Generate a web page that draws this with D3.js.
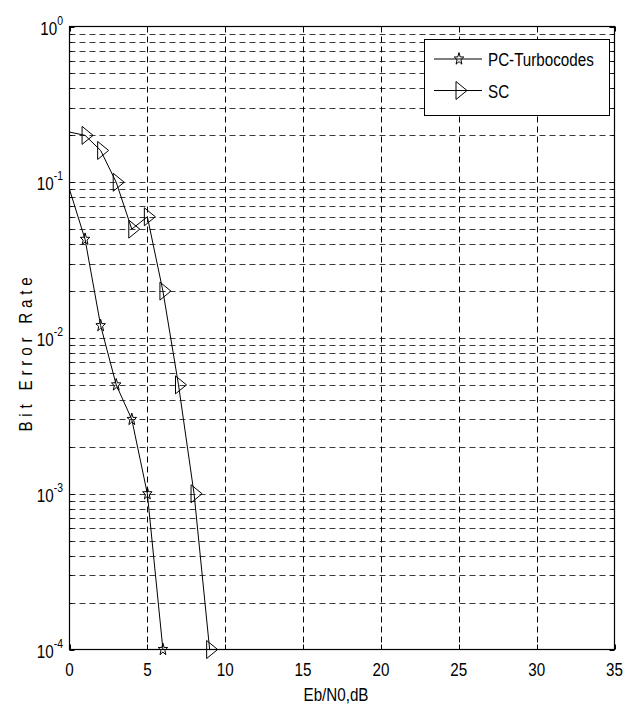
<!DOCTYPE html>
<html>
<head>
<meta charset="utf-8">
<script src="https://cdn.jsdelivr.net/npm/d3@7"></script>
<style>
  body { margin: 0; background: #fff; }
  svg { display: block; }
  text { font-family: "Liberation Sans", Arial, sans-serif; fill: #000; }
</style>
</head>
<body>
<svg id="chart" width="633" height="708"></svg>
<script>
// values
var ebn0 = [0, 1, 2, 3, 4, 5, 6, 7, 8, 9];
var berPcTurbo = [0.09, 0.043, 0.012, 0.005, 0.003, 0.001, 0.0001];
var berSc = [0.21, 0.2, 0.16, 0.1, 0.05, 0.06, 0.02, 0.005, 0.001, 0.0001];
var seriesNames = ["PC-Turbocodes", "SC"];
var xTicks = [0, 5, 10, 15, 20, 25, 30, 35];
var yExponents = [0, -1, -2, -3, -4];

var svg = d3.select("#chart");
var box = { left: 69.5, right: 614.5, top: 26.5, bottom: 649.5 };
var squeeze = 0.8;   // the original font is a condensed one

var x = d3.scaleLinear().domain([0, 35]).range([box.left, box.right]);
var y = d3.scaleLog().domain([1e-4, 1]).range([box.bottom, box.top]);

// text squeezed horizontally around its anchor point
function narrowText(sel, px, py, rot) {
    return sel.append("text")
        .attr("transform", "translate(" + px + "," + py + ")" + (rot ? " rotate(" + rot + ")" : "") + " scale(" + squeeze + ",1)")
        .style("font-size", "19px");
}

// every log tick: 1..9 x 10^k
var yGrid = [];
for (var k = -4; k < 0; ++k) {
    for (var m = 1; m < 10; ++m) yGrid.push(m * Math.pow(10, k));
}
yGrid.push(1);

var grid = svg.append("g").attr("class", "grid");

grid.selectAll(".hgrid")
    .data(yGrid.filter(v => v > 1e-4 && v < 1))
  .enter().append("line")
    .attr("class", "hgrid")
    .attr("x1", box.left).attr("x2", box.right)
    .attr("y1", d => Math.round(y(d)) + 0.5)
    .attr("y2", d => Math.round(y(d)) + 0.5)
    .attr("stroke", "#3a3a3a")
    .attr("stroke-dasharray", "6,4");

grid.selectAll(".vgrid")
    .data(xTicks.slice(1, -1))
  .enter().append("line")
    .attr("class", "vgrid")
    .attr("y1", box.top).attr("y2", box.bottom)
    .attr("x1", d => Math.round(x(d)) + 0.5)
    .attr("x2", d => Math.round(x(d)) + 0.5)
    .attr("stroke", "#000")
    .attr("stroke-dasharray", "6,4");

// ticks on all four sides, pointing in
var ticks = svg.append("g").attr("class", "ticks").attr("stroke", "#000");

xTicks.forEach(function(t) {
    var px = Math.round(x(t)) + 0.5;
    ticks.append("line").attr("x1", px).attr("x2", px).attr("y1", box.bottom).attr("y2", box.bottom - 5);
    ticks.append("line").attr("x1", px).attr("x2", px).attr("y1", box.top).attr("y2", box.top + 5);
});

yGrid.forEach(function(v) {
    var py = Math.round(y(v)) + 0.5;
    var len = (Math.abs(Math.log10(v) - Math.round(Math.log10(v))) < 1e-9) ? 5 : 3;
    ticks.append("line").attr("x1", box.left).attr("x2", box.left + len).attr("y1", py).attr("y2", py);
    ticks.append("line").attr("x1", box.right).attr("x2", box.right - len).attr("y1", py).attr("y2", py);
});

svg.append("rect")
    .attr("x", box.left).attr("y", box.top)
    .attr("width", box.right - box.left)
    .attr("height", box.bottom - box.top)
    .attr("fill", "none")
    .attr("stroke", "#000")
    .attr("stroke-width", 1.2);

// tick labels
var labels = svg.append("g").attr("class", "labels");

xTicks.forEach(function(t) {
    narrowText(labels, x(t), box.bottom + 26)
        .attr("text-anchor", "middle")
        .text(t);
});

yExponents.forEach(function(e) {
    var t = narrowText(labels, 63, y(Math.pow(10, e)) + 8)
        .attr("text-anchor", "end");
    t.append("tspan").text("10");
    t.append("tspan")
        .attr("dy", -10)
        .style("font-size", "13px")
        .text(e);
});

// axis titles
narrowText(svg, 336, 701)
    .attr("text-anchor", "middle")
    .text("Eb/N0,dB");

narrowText(svg, 32, 352, -90)
    .attr("text-anchor", "middle")
    .style("letter-spacing", "6px")
    .text("Bit Error Rate");

// markers
var starPath = (function() {
    var pts = [];
    for (var i = 0; i < 10; ++i) {
        var r = i % 2 ? 2.6 : 6.4;
        var a = -Math.PI / 2 + i * Math.PI / 5;
        pts.push([0.78 * r * Math.cos(a), r * Math.sin(a)]);
    }
    return "M" + pts.map(p => p[0].toFixed(2) + "," + p[1].toFixed(2)).join("L") + "Z";
})();
var triPath = "M-3,-9L8,0L-3,9Z";

var seriesList = [
    { name: seriesNames[0], values: berPcTurbo, marker: starPath },
    { name: seriesNames[1], values: berSc, marker: triPath }
];

var line = d3.line()
    .x((d, i) => x(ebn0[i]))
    .y(d => y(d));

var plot = svg.append("g").attr("class", "series");

seriesList.forEach(function(s) {
    plot.append("path")
        .attr("d", line(s.values))
        .attr("fill", "none")
        .attr("stroke", "#000")
        .attr("stroke-width", 1);

    // markers on every point except the first
    plot.selectAll(null)
        .data(s.values.slice(1))
      .enter().append("path")
        .attr("transform", (d, i) => "translate(" + x(ebn0[i + 1]) + "," + y(d) + ")")
        .attr("d", s.marker)
        .attr("fill", "none")
        .attr("stroke", "#000")
        .attr("stroke-width", 1);
});

// legend
var legend = svg.append("g").attr("class", "legend");
legend.append("rect")
    .attr("x", 424.5).attr("y", 39.5)
    .attr("width", 185).attr("height", 76)
    .attr("fill", "#fff")
    .attr("stroke", "#000");

seriesList.forEach(function(s, i) {
    var ly = 59 + i * 31.5;
    legend.append("line")
        .attr("x1", 434).attr("x2", 482)
        .attr("y1", ly).attr("y2", ly)
        .attr("stroke", "#000");

    legend.append("path")
        .attr("transform", "translate(459," + ly + ")")
        .attr("d", s.marker)
        .attr("fill", "none")
        .attr("stroke", "#000");

    narrowText(legend, 488, ly + 7).text(s.name);
});
</script>
</body>
</html>
